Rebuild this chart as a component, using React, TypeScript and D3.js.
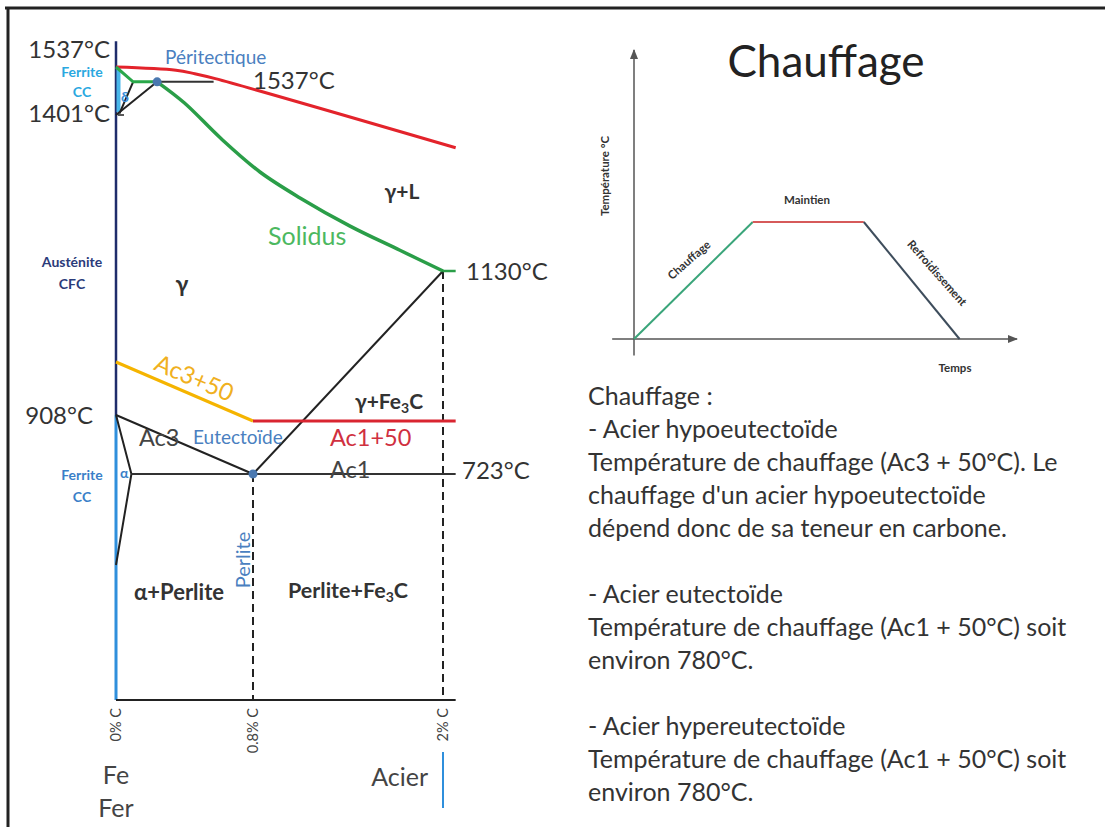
import React from 'react';
import * as d3 from 'd3';

// Fe-C diagram (schematic, not to scale): carbon % and temperatures
const carbonTicks = [0, 0.8, 2];
const carbonTickLabels = ['0% C', '0.8% C', '2% C'];
const tempBreaks = [0, 723, 773, 908, 958, 1130, 1401, 1537];

const liquidus: [number, number][] = [[0, 1537], [0.35, 1528], [0.46, 1518], [0.58, 1504], [2.08, 1344]];
const deltaEdge: [number, number][] = [[0, 1537], [0.1, 1495], [0.24, 1495]];
const solidus: [number, number][] = [
  [0.24, 1495], [0.4, 1435], [0.61, 1361], [0.844, 1302], [1.097, 1257],
  [1.413, 1208], [1.728, 1166], [2, 1130],
];
const solidusEnd: [number, number][] = [[2, 1130], [2.08, 1130]];
const peritectic: [number, number][] = [[0.24, 1495], [0.57, 1495]];
const deltaLineA: [number, number][] = [[0.02, 1405], [0.1, 1495]];
const deltaLineB: [number, number][] = [[0, 1401], [0.24, 1495]];
const ac3Line: [number, number][] = [[0, 908], [0.8, 723]];
const alphaLine: [number, number][] = [[0, 908], [0.09, 723], [0, 432]];
const eutectoidLine: [number, number][] = [[0.09, 723], [2.08, 723]];
const acmLine: [number, number][] = [[0.8, 723], [2, 1130]];
const ac3Plus50: [number, number][] = [[0, 958], [0.8, 773]];
const ac1Plus50: [number, number][] = [[0.8, 773], [2.08, 773]];
const dashedLines: [number, number][][] = [[[0.8, 723], [0.8, 0]], [[2, 1130], [2, 0]]];

// heat treatment cycle (time %, temperature %)
const cycleTimes = [0, 31, 60, 85];
const cycleTemps = [0, 100, 100, 0];
const cycleColors = ['#3aa57a', '#d65a5a', '#3e4d5c'];

const textLines = [
  'Chauffage :',
  '- Acier hypoeutectoïde',
  'Température de chauffage (Ac3 + 50°C). Le',
  "chauffage d'un acier hypoeutectoïde",
  'dépend donc de sa teneur en carbone.',
  '',
  '- Acier eutectoïde',
  'Température de chauffage (Ac1 + 50°C) soit',
  'environ 780°C.',
  '',
  '- Acier hypereutectoïde',
  'Température de chauffage (Ac1 + 50°C) soit',
  'environ 780°C.',
];

const FONT = 'Lato, "Open Sans", sans-serif';
const DARK = '#333';

const App: React.FC = () => {
  const x = d3.scaleLinear().domain([0, 0.8, 2]).range([116, 253, 443]);
  const y = d3.scaleLinear().domain(tempBreaks).range([700, 474, 421, 415, 362, 271, 115, 67]);
  const line = d3.line<[number, number]>().x(d => x(d[0])).y(d => y(d[1]));
  const curve = d3.line<[number, number]>().x(d => x(d[0])).y(d => y(d[1])).curve(d3.curveCatmullRom.alpha(0.5));

  const tx = d3.scaleLinear().domain([0, 100]).range([634, 1017]);
  const ty = d3.scaleLinear().domain([0, 100]).range([339, 222]);

  const eut = [0.8, 723];
  const peri = [0.24, 1495];
  const ac3Angle = (Math.atan2(y(773) - y(958), x(0.8) - x(0)) * 180) / Math.PI;

  return (
    <svg width={1105} height={827} style={{ position: 'absolute', left: 0, top: 0, background: '#fff' }} fontFamily={FONT}>
      <defs>
        <marker id="arr" viewBox="0 0 10 10" refX="9" refY="5" markerWidth="7" markerHeight="7" orient="auto">
          <path d="M0,1 L10,5 L0,9 z" fill="#555" />
        </marker>
      </defs>
      {/* frame */}
      <line x1={5} y1={8} x2={1105} y2={8} stroke="#222" strokeWidth={3} />
      <line x1={8} y1={8} x2={8} y2={827} stroke="#222" strokeWidth={3} />

      {/* axes */}
      <line x1={x(0)} y1={y(908)} x2={x(0)} y2={y(1610)} stroke="#1f2d6b" strokeWidth={2.5} />
      <line x1={x(0)} y1={y(0)} x2={x(0)} y2={y(908)} stroke="#2f8fdc" strokeWidth={3} />
      <line x1={x(0) + 2.5} y1={y(1401) - 3} x2={x(0) + 2.5} y2={y(1537)} stroke="#48b6ea" strokeWidth={4} />
      <line x1={x(0)} y1={y(0)} x2={x(2.08)} y2={y(0)} stroke="#222" strokeWidth={2} />
      <line x1={x(0) + 2} y1={y(1401)} x2={x(0) + 8} y2={y(1401)} stroke="#222" strokeWidth={1.5} />

      {/* phase boundaries */}
      {dashedLines.map((d, i) => (
        <path key={i} d={line(d)!} stroke="#222" strokeWidth={2} strokeDasharray="8,5" fill="none" />
      ))}
      <path d={line(ac3Line)!} stroke="#222" strokeWidth={2} fill="none" />
      <path d={line(alphaLine)!} stroke="#222" strokeWidth={2} fill="none" />
      <path d={line(eutectoidLine)!} stroke="#333" strokeWidth={2} fill="none" />
      <path d={line(acmLine)!} stroke="#222" strokeWidth={2} fill="none" />
      <path d={line(deltaLineA)!} stroke="#222" strokeWidth={2} fill="none" />
      <path d={line(deltaLineB)!} stroke="#222" strokeWidth={2} fill="none" />
      <path d={line(peritectic)!} stroke="#333" strokeWidth={2} fill="none" />
      <path d={line(ac3Plus50)!} stroke="#f5b400" strokeWidth={3} fill="none" />
      <path d={line(ac1Plus50)!} stroke="#d92530" strokeWidth={3} fill="none" />
      <path d={curve(liquidus)!} stroke="#e3232b" strokeWidth={3} fill="none" />
      <path d={line(deltaEdge)!} stroke="#2aa84a" strokeWidth={3} fill="none" />
      <path d={curve(solidus)!} stroke="#2a9e48" strokeWidth={3.5} fill="none" />
      <path d={line(solidusEnd)!} stroke="#2a9e48" strokeWidth={2.5} fill="none" />
      <circle cx={x(peri[0])} cy={y(peri[1])} r={4.5} fill="#4a78b0" />
      <circle cx={x(eut[0])} cy={y(eut[1])} r={4.5} fill="#4a78b0" />

      {/* temperature labels */}
      <g fontSize={24} fill={DARK}>
        <text x={110} y={y(1537) - 9} textAnchor="end">1537°C</text>
        <text x={110} y={y(1401) + 7} textAnchor="end">1401°C</text>
        <text x={93} y={y(908) + 9} textAnchor="end">908°C</text>
        <text x={253} y={y(1495) + 7}>1537°C</text>
        <text x={466} y={y(1130) + 9}>1130°C</text>
        <text x={462} y={y(723) + 5}>723°C</text>
      </g>

      {/* region labels */}
      <g fontSize={14} fontWeight="bold" textAnchor="middle">
        <text x={82} y={y(1537) + 10} fill="#2aa8e0">Ferrite</text>
        <text x={82} y={y(1537) + 30} fill="#2aa8e0">CC</text>
        <text x={72} y={267} fill="#2b3b7a">Austénite</text>
        <text x={72} y={289} fill="#2b3b7a">CFC</text>
        <text x={82} y={y(723) + 6} fill="#3a7fc8">Ferrite</text>
        <text x={82} y={y(723) + 28} fill="#3a7fc8">CC</text>
      </g>
      <text x={x(0) + 5} y={y(1450) + 4} fontSize={14} fontWeight="bold" fill="#3a8fd8">δ</text>
      <text x={x(0) + 4} y={y(723) + 4} fontSize={14} fontWeight="bold" fill="#3a7fc8">α</text>
      <text x={165} y={64} fontSize={19} fill="#4a7fc0">Péritectique</text>
      <text x={182} y={292} fontSize={23} fontWeight="bold" fill={DARK} textAnchor="middle">γ</text>
      <text x={402} y={199} fontSize={21} fontWeight="bold" fill={DARK} textAnchor="middle">γ+L</text>
      <text x={268} y={245} fontSize={25} fill="#4cb860">Solidus</text>
      <text
        x={193}
        y={386}
        fontSize={24}
        fill="#f0b020"
        textAnchor="middle"
        transform={`rotate(${ac3Angle},193,381)`}
      >
        Ac3+50
      </text>
      <text x={139} y={446} fontSize={23.5} fill="#444">Ac3</text>
      <text x={193} y={444} fontSize={19} fill="#4a7fc0">Eutectoïde</text>
      <text x={330} y={446} fontSize={23.5} fill="#d03040">Ac1+50</text>
      <text x={330} y={478} fontSize={23.5} fill="#444">Ac1</text>
      <text x={389} y={409} fontSize={21} fontWeight="bold" fill={DARK} textAnchor="middle">
        γ+Fe<tspan fontSize={14} dy={4}>3</tspan><tspan dy={-4}>C</tspan>
      </text>
      <text x={179} y={600} fontSize={22} fontWeight="bold" fill={DARK} textAnchor="middle">α+Perlite</text>
      <text x={348} y={598} fontSize={21.5} fontWeight="bold" fill={DARK} textAnchor="middle">
        Perlite+Fe<tspan fontSize={14} dy={4}>3</tspan><tspan dy={-4}>C</tspan>
      </text>
      <text
        x={250}
        y={560}
        fontSize={20}
        fill="#4a7fc0"
        textAnchor="middle"
        transform="rotate(-90,250,560)"
      >
        Perlite
      </text>

      {/* carbon ticks */}
      {carbonTicks.map((c, i) => (
        <text
          key={c}
          x={x(c) + 5}
          y={y(0) + 8}
          fontSize={14.5}
          fill="#444"
          textAnchor="end"
          transform={`rotate(-90,${x(c) + 5},${y(0) + 8})`}
        >
          {carbonTickLabels[i]}
        </text>
      ))}
      <text x={116} y={784} fontSize={25} fill="#444" textAnchor="middle">Fe</text>
      <text x={116} y={817} fontSize={25} fill="#444" textAnchor="middle">Fer</text>
      <text x={428} y={786} fontSize={25} fill="#444" textAnchor="end">Acier</text>
      <line x1={x(2)} y1={752} x2={x(2)} y2={808} stroke="#2f8fdc" strokeWidth={2} />

      {/* right: heating cycle */}
      <text x={826} y={77} fontSize={44} fill="#222" textAnchor="middle">Chauffage</text>
      <line x1={tx(0)} y1={ty(-14)} x2={tx(0)} y2={ty(247)} stroke="#555" strokeWidth={1.5} markerEnd="url(#arr)" />
      <line x1={tx(-5.7)} y1={ty(0)} x2={tx(100)} y2={ty(0)} stroke="#555" strokeWidth={1.5} markerEnd="url(#arr)" />
      {cycleColors.map((c, i) => (
        <line
          key={i}
          x1={tx(cycleTimes[i])}
          y1={ty(cycleTemps[i])}
          x2={tx(cycleTimes[i + 1])}
          y2={ty(cycleTemps[i + 1])}
          stroke={c}
          strokeWidth={2}
        />
      ))}
      <g fontSize={11.5} fontWeight="bold" fill="#333" textAnchor="middle">
        <text x={807} y={204}>Maintien</text>
        <text x={689} y={264} transform="rotate(-41,689,260)">Chauffage</text>
        <text x={937} y={277} transform="rotate(48.5,937,273)">Refroidissement</text>
        <text x={605} y={180} transform="rotate(-90,605,176)">Température °C</text>
        <text x={955} y={372}>Temps</text>
      </g>

      {/* explanation text */}
      <g fontSize={25} fill="#333">
        {textLines.map((t, i) => (
          <text key={i} x={588} y={405 + i * 33}>{t}</text>
        ))}
      </g>
    </svg>
  );
};

export default App;
